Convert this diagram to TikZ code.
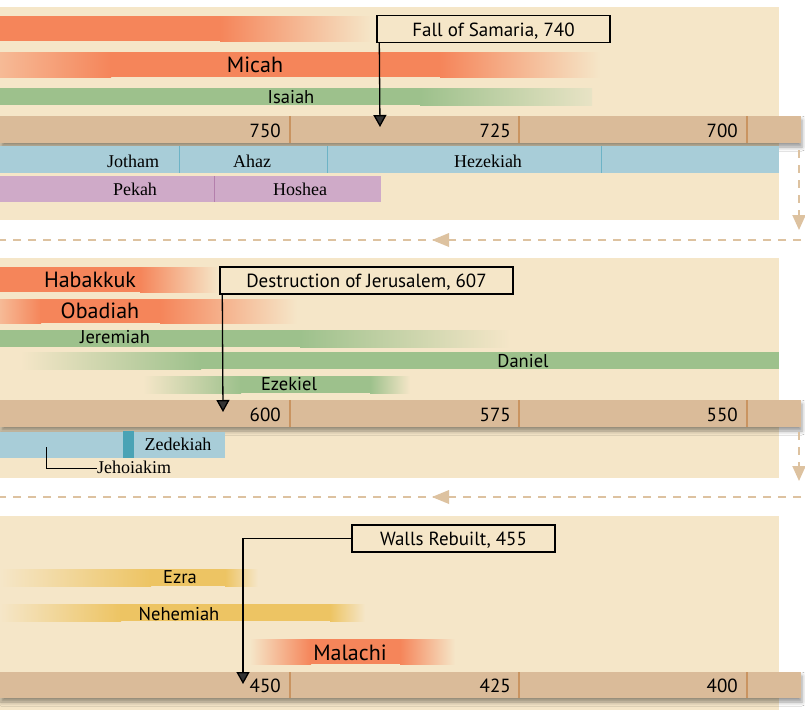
\documentclass[tikz,border=0pt]{standalone}
\usepackage{fontspec}
\setmainfont{Liberation Serif}
\newfontfamily\lbl{PT Sans}
\usetikzlibrary{arrows.meta,shadows.blur}
\definecolor{bgc}{HTML}{F5E6C8}
\definecolor{orc}{HTML}{F5855A}
\definecolor{orl}{HTML}{F6BA96}
\definecolor{grc}{HTML}{9DC18C}
\definecolor{grl}{HTML}{E8E3C5}
\definecolor{gdc}{HTML}{EDC463}
\definecolor{tlc}{HTML}{DABB99}
\definecolor{tkc}{HTML}{C99461}
\definecolor{blc}{HTML}{A8CDD8}
\definecolor{bld}{HTML}{6DB3C6}
\definecolor{blk}{HTML}{4AA3B5}
\definecolor{puc}{HTML}{CFAAC8}
\definecolor{pud}{HTML}{B47FAC}
\definecolor{flowc}{HTML}{DDC2A0}
\begin{document}
\begin{tikzpicture}[x=1pt,y=-1pt,
  lab/.style={font=\lbl\fontsize{18.5}{20}\selectfont, inner sep=0, anchor=base},
  biglab/.style={font=\lbl\fontsize{22}{24}\selectfont, inner sep=0, anchor=base},
  king/.style={font=\fontsize{18}{20}\selectfont, inner sep=0, anchor=base},
  yr/.style={font=\lbl\fontsize{19}{21}\selectfont, inner sep=0, anchor=base east},
  evbox/.style={draw=black, line width=1.4pt, fill=bgc, font=\lbl\fontsize{19}{21}\selectfont,
     text height=16pt, text depth=2pt, inner ysep=4.5pt, inner xsep=0pt},
  evline/.style={line width=1.3pt, -{Triangle[width=13pt,length=12pt]}},
  flow/.style={draw=flowc, line width=2pt, dash pattern=on 8pt off 7pt},
  flowtip/.style={-{Triangle[width=13pt,length=15pt]}},
  tline/.style={fill=tlc, blur shadow={shadow xshift=1pt, shadow yshift=-4pt, shadow blur radius=4pt, shadow opacity=40}},
  tick/.style={draw=tkc, line width=1.2pt}
]
\useasboundingbox (0,0) rectangle (805,712);
\fill[white] (0,0) rectangle (805,712);
% panels
\fill[bgc] (0,7) rectangle (779,220);
\fill[bgc] (0,258) rectangle (779,478);
\fill[bgc] (0,516) rectangle (779,710);

% ---------------- panel 1 ----------------
\fill[orc] (0,16) rectangle (221,41);
\shade[left color=orc,right color=bgc] (220,16) rectangle (372,41);
\shade[left color=orl,right color=orc] (0,52) rectangle (111,77);
\fill[orc] (110,52) rectangle (441,77);
\shade[left color=orc,right color=bgc] (440,52) rectangle (600,77);
\fill[grc] (0,88) rectangle (421,105);
\shade[left color=grc,right color=grl] (420,88) rectangle (592,105);
\node[biglab] (micah) at (255,72) {Micah};
\node[lab] (isaiah) at (291,103) {Isaiah};

\path[tline] (0,116) rectangle (801,143);
\draw[tick] (290,116) -- (290,143);
\draw[tick] (519,116) -- (519,143);
\draw[tick] (747,116) -- (747,143);
\node[yr] (y750) at (281,137) {750};
\node[yr] (y725) at (511,137) {725};
\node[yr] (y700) at (738,137) {700};

\fill[blc] (0,146) rectangle (779,173);
\draw[bld, line width=1pt] (179,146) -- (179,173);
\draw[bld, line width=1pt] (327,146) -- (327,173);
\draw[bld, line width=1pt] (601,146) -- (601,173);
\node[king] (jotham) at (133,167) {Jotham};
\node[king] (ahaz) at (252,167) {Ahaz};
\node[king] (hezekiah) at (488,167) {Hezekiah};
\fill[puc] (0,176) rectangle (381,202);
\draw[pud, line width=1pt] (214,176) -- (214,202);
\node[king] (pekah) at (135,195) {Pekah};
\node[king] (hoshea) at (300,195) {Hoshea};

\node[evbox, minimum width=233pt] (fall) at (493.5,29) {Fall of Samaria, 740};
\coordinate (fallT) at (380,127);
\draw[evline] ([xshift=3pt]fall.south west) -- (fallT);

% flow 1
\coordinate (f1a) at (799,150);
\coordinate (f1b) at (799,230);
\draw[flow, flowtip] (f1a) -- (f1b);
\coordinate (h1a) at (801,240);
\coordinate (h1b) at (0,240);
\draw[flow] (h1a) -- (h1b);
\fill[flowc] (432,240) -- (449,233) -- (449,247) -- cycle;

% ---------------- panel 2 ----------------
\fill[orc] (0,267) rectangle (141,292);
\shade[left color=orc,right color=bgc] (140,267) rectangle (218,292);
\shade[left color=orl,right color=orc] (0,299) rectangle (41,323);
\fill[orc] (40,299) rectangle (161,323);
\shade[left color=orc,right color=bgc] (160,299) rectangle (297,323);
\fill[grc] (0,330) rectangle (301,347);
\shade[left color=grc,right color=bgc] (300,330) rectangle (510,347);
\shade[left color=bgc,right color=grc] (20,352) rectangle (201,369);
\fill[grc] (200,352) rectangle (779,369);
\shade[left color=bgc,right color=grc] (143,376) rectangle (241,393);
\fill[grc] (240,376) rectangle (371,393);
\shade[left color=grc,right color=bgc] (370,376) rectangle (410,393);
\node[biglab] (habakkuk) at (90,287) {Habakkuk};
\node[biglab] (obadiah) at (100,318) {Obadiah};
\node[lab] (jeremiah) at (115,343) {Jeremiah};
\node[lab] (daniel) at (523,367) {Daniel};
\node[lab] (ezekiel) at (289,390) {Ezekiel};

\path[tline] (0,400) rectangle (801,427);
\draw[tick] (290,400) -- (290,427);
\draw[tick] (519,400) -- (519,427);
\draw[tick] (747,400) -- (747,427);
\node[yr] (y600) at (281,421) {600};
\node[yr] (y575) at (511,421) {575};
\node[yr] (y550) at (738,421) {550};

\fill[blc] (0,432) rectangle (225,458);
\fill[blk] (123,431) rectangle (134,458);
\node[king] (zedekiah) at (178,450) {Zedekiah};
\node[king, anchor=base west] (jehoiakim) at (97,473) {Jehoiakim};
\coordinate (jehA) at (46,447);
\draw[line width=1pt] (jehA) |- ([yshift=5pt]jehoiakim.base west);

\node[evbox, minimum width=293pt] (dest) at (366.5,280.5) {Destruction of Jerusalem, 607};
\coordinate (destT) at (223,412);
\draw[evline] ([xshift=3pt]dest.south west) -- (destT);

% flow 2
\coordinate (f2a) at (799,432);
\coordinate (f2b) at (799,481);
\draw[flow, flowtip] (f2a) -- (f2b);
\coordinate (h2a) at (801,497);
\coordinate (h2b) at (0,497);
\draw[flow] (h2a) -- (h2b);
\fill[flowc] (432,497) -- (449,490) -- (449,504) -- cycle;

% ---------------- panel 3 ----------------
\shade[left color=bgc,right color=gdc] (0,569) rectangle (151,586);
\fill[gdc] (150,569) rectangle (226,586);
\shade[left color=gdc,right color=bgc] (225,569) rectangle (258,586);
\shade[left color=bgc,right color=gdc] (0,604) rectangle (121,621);
\fill[gdc] (120,604) rectangle (331,621);
\shade[left color=gdc,right color=bgc] (330,604) rectangle (365,621);
\shade[left color=bgc,right color=orc] (250,639) rectangle (311,664);
\fill[orc] (310,639) rectangle (401,664);
\shade[left color=orc,right color=bgc] (400,639) rectangle (455,664);
\node[lab] (ezra) at (180,583) {Ezra};
\node[lab] (nehemiah) at (179,620) {Nehemiah};
\node[biglab] (malachi) at (350,660) {Malachi};

\path[tline] (0,672) rectangle (801,698);
\draw[tick] (290,672) -- (290,698);
\draw[tick] (519,672) -- (519,698);
\draw[tick] (747,672) -- (747,698);
\node[yr] (y450) at (281,692) {450};
\node[yr] (y425) at (511,692) {425};
\node[yr] (y400) at (738,692) {400};

\node[evbox, minimum width=203pt] (walls) at (453.5,538.5) {Walls Rebuilt, 455};
\coordinate (wallsT) at (243,684);
\draw[evline] (walls.west) -| (wallsT);
\end{tikzpicture}
\end{document}
